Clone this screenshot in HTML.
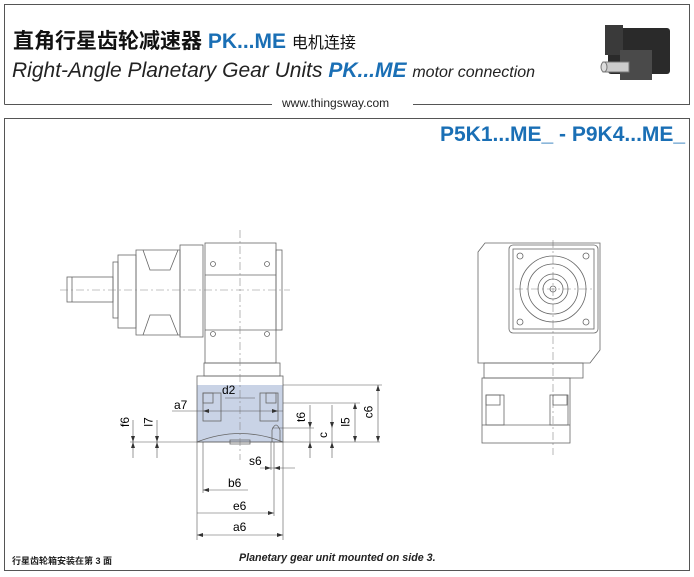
<!DOCTYPE html>
<html><head><meta charset="utf-8"><style>
body{margin:0;width:694px;height:577px;background:#fff;overflow:hidden;position:relative;font-family:"Liberation Sans","Noto Sans CJK SC",sans-serif}
.t{position:absolute;white-space:nowrap}
</style></head><body>
<svg width="694" height="577" style="position:absolute;left:0;top:0" xmlns="http://www.w3.org/2000/svg">
<g fill="none" stroke="#555" stroke-width="1">
<path d="M4.5 104.5 V4.5 H689.5 V104.5 H413 M272 104.5 H4.5"/>
<rect x="4.5" y="118.5" width="685" height="452"/>
</g>
<g>
<rect x="608" y="28" width="62" height="46" rx="3" fill="#2a2a2a"/>
<rect x="605" y="25" width="18" height="30" fill="#3a3a3a"/>
<rect x="620" y="50" width="32" height="30" fill="#4a4a4a"/>
<rect x="603" y="62" width="26" height="10" fill="#ccc" stroke="#777"/>
<ellipse cx="604" cy="67" rx="3" ry="5" fill="#ddd" stroke="#777"/>
</g>
<g fill="none" stroke="#666" stroke-width="0.8">
<rect x="197" y="385" width="86" height="57" fill="#c9d3e6" stroke="none"/>
<rect x="67" y="277" width="46" height="25"/>
<line x1="72" y1="277" x2="72" y2="302"/>
<rect x="113" y="262" width="5" height="56"/>
<rect x="118" y="255" width="18" height="73"/>
<path d="M136 250 H180 V335 H136 Z"/>
<path d="M143 250 L150 270 H170 L178 250 M143 335 L150 315 H170 L178 335"/>
<rect x="180" y="245" width="23" height="92"/>
<rect x="205" y="243" width="71" height="120"/>
<line x1="205" y1="275" x2="276" y2="275"/>
<line x1="205" y1="330" x2="276" y2="330"/>
<rect x="276" y="250" width="6" height="80"/>
<circle cx="213" cy="264" r="2.5"/><circle cx="267" cy="264" r="2.5"/>
<circle cx="213" cy="334" r="2.5"/><circle cx="267" cy="334" r="2.5"/>
<rect x="204" y="363" width="76" height="13"/>
<rect x="197" y="376" width="86" height="66"/>
<rect x="203" y="393" width="10" height="10"/><rect x="266" y="393" width="10" height="10"/>
<rect x="203" y="393" width="18" height="28"/><rect x="260" y="393" width="18" height="28"/>
<path d="M197 442 Q240 425 283 442"/>
<rect x="230" y="440" width="20" height="4"/>
<path d="M272 442 V430 Q276 420 280 430 V442"/>
</g>
<g stroke="#888" stroke-width="0.6" stroke-dasharray="8,3,2,3" fill="none">
<line x1="60" y1="290" x2="290" y2="290"/>
<line x1="240" y1="230" x2="240" y2="460"/>
<line x1="553" y1="240" x2="553" y2="455"/>
<line x1="515" y1="289" x2="592" y2="289"/>
</g>
<g stroke="#555" stroke-width="0.6" fill="none">
<line x1="130" y1="442" x2="380" y2="442"/>
<line x1="283" y1="385" x2="382" y2="385"/>
<line x1="283" y1="403" x2="360" y2="403"/>
<line x1="272" y1="428" x2="314" y2="428"/>
<line x1="172" y1="411" x2="283" y2="411"/>
<line x1="378" y1="385" x2="378" y2="442"/>
<line x1="355" y1="403" x2="355" y2="442"/>
<line x1="332" y1="405" x2="332" y2="458"/>
<line x1="310" y1="405" x2="310" y2="458"/>
<line x1="133" y1="420" x2="133" y2="458"/>
<line x1="157" y1="420" x2="157" y2="458"/>
<line x1="225" y1="398" x2="255" y2="398"/>
<line x1="197" y1="442" x2="197" y2="540"/>
<line x1="283" y1="442" x2="283" y2="540"/>
<line x1="203" y1="442" x2="203" y2="493"/>
<line x1="274" y1="442" x2="274" y2="516"/>
<line x1="271" y1="442" x2="271" y2="470"/>
<line x1="197" y1="535" x2="283" y2="535"/>
<line x1="197" y1="513" x2="274" y2="513"/>
<line x1="203" y1="490" x2="248" y2="490"/>
<line x1="260" y1="468" x2="295" y2="468"/>
</g>
<g fill="#333">
<path d="M378 385 l-2 6 h4z M378 442 l-2 -6 h4z M355 403 l-2 6 h4z M355 442 l-2 -6 h4z M332 428 l-2 -6 h4z M332 442 l-2 6 h4z M310 428 l-2 -6 h4z M310 442 l-2 6 h4z M133 442 l-2 -6 h4z M133 442 l-2 6 h4z M157 442 l-2 -6 h4z M157 442 l-2 6 h4z M197 535 l6 -2 v4z M283 535 l-6 -2 v4z M274 513 l-6 -2 v4z M203 490 l6 -2 v4z M271 468 l-6 -2 v4z M274 468 l6 -2 v4z M203 411 l6 -2 v4z M278 411 l-6 -2 v4z"/>
</g>
<g fill="none" stroke="#666" stroke-width="0.8">
<path d="M478 252 L485 243 H600 V350 L590 363 H478 Z"/>
<rect x="509" y="245" width="89" height="88" rx="4"/>
<rect x="513" y="249" width="81" height="80"/>
<circle cx="553" cy="289" r="33"/><circle cx="553" cy="289" r="25"/>
<circle cx="553" cy="289" r="15"/><circle cx="553" cy="289" r="10"/><circle cx="553" cy="289" r="3"/>
<circle cx="520" cy="256" r="3"/><circle cx="586" cy="256" r="3"/>
<circle cx="520" cy="322" r="3"/><circle cx="586" cy="322" r="3"/>
<rect x="484" y="363" width="99" height="15"/>
<rect x="482" y="378" width="88" height="65"/>
<rect x="486" y="395" width="14" height="10"/><rect x="553" y="395" width="14" height="10"/>
<rect x="486" y="395" width="18" height="30"/><rect x="550" y="395" width="18" height="30"/>
<line x1="482" y1="425" x2="570" y2="425"/>
</g>
</svg>
<div class="t" style="left:13px;top:25px;font-size:21px;font-weight:bold;color:#111">直角行星齿轮减速器 <span style="color:#1a6fb5">PK...ME</span> <span style="font-size:16px;font-weight:normal">电机连接</span></div>
<div class="t" style="left:12px;top:59px;font-size:21px;font-style:italic;color:#222">Right-Angle Planetary Gear Units <b style="color:#1a6fb5">PK...ME</b> <span style="font-size:16px">motor connection</span></div>
<div class="t" style="left:282px;top:96px;font-size:12px;color:#222">www.thingsway.com</div>
<div class="t" style="left:440px;top:123px;font-size:21px;font-weight:bold;color:#1a6fb5">P5K1...ME_ - P9K4...ME_</div>
<div class="t" style="left:12px;top:554px;font-size:9px;font-weight:bold;color:#222">行星齿轮箱安装在第 3 面</div>
<div class="t" style="left:239px;top:552px;font-size:10.7px;font-weight:bold;font-style:italic;color:#222">Planetary gear unit mounted on side 3.</div>
<div class="t" style="left:222px;top:383px;font-size:12px">d2</div>
<div class="t" style="left:174px;top:398px;font-size:12px">a7</div>
<div class="t" style="left:249px;top:454px;font-size:12px">s6</div>
<div class="t" style="left:228px;top:476px;font-size:12px">b6</div>
<div class="t" style="left:233px;top:499px;font-size:12px">e6</div>
<div class="t" style="left:233px;top:520px;font-size:12px">a6</div>
<div class="t" style="left:120px;top:415px;font-size:12px;transform:rotate(-90deg)">f6</div>
<div class="t" style="left:144px;top:415px;font-size:12px;transform:rotate(-90deg)">l7</div>
<div class="t" style="left:296px;top:410px;font-size:12px;transform:rotate(-90deg)">t6</div>
<div class="t" style="left:320px;top:428px;font-size:12px;transform:rotate(-90deg)">c</div>
<div class="t" style="left:341px;top:415px;font-size:12px;transform:rotate(-90deg)">l5</div>
<div class="t" style="left:362px;top:405px;font-size:12px;transform:rotate(-90deg)">c6</div>
</body></html>
